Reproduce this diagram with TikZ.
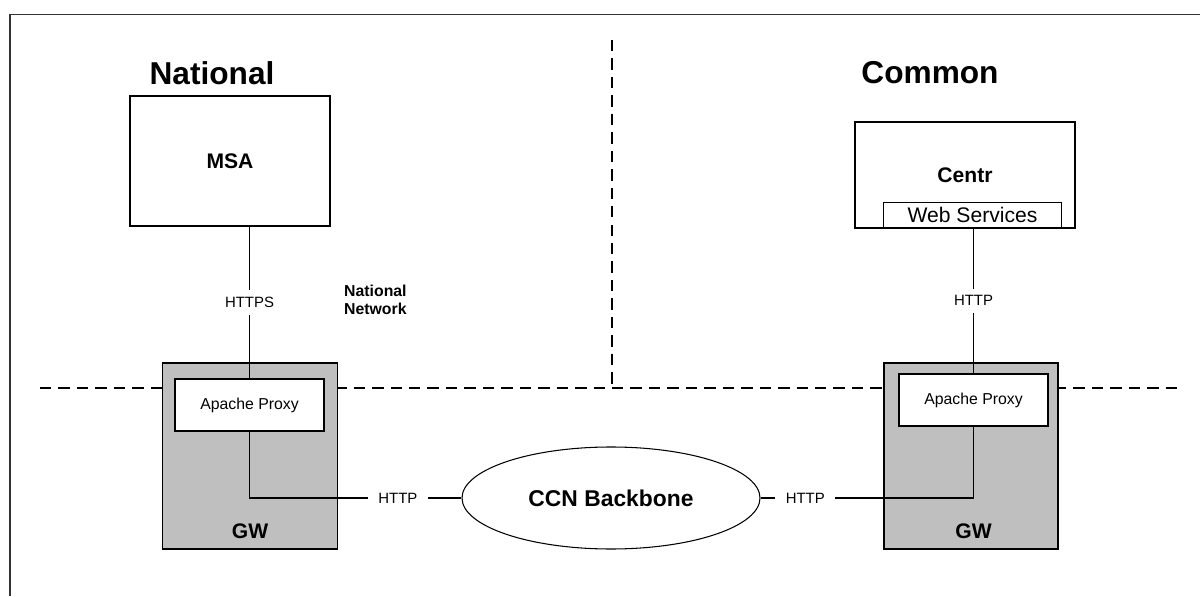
\documentclass[tikz,border=0pt]{standalone}
\usepackage{fontspec}
\setmainfont{Liberation Sans}
\usetikzlibrary{shapes.geometric}

\begin{document}
\begin{tikzpicture}[
    box/.style={draw, line width=0.6pt, inner sep=0pt},
    gwbox/.style={box, fill=gray!50, minimum width=3.5cm, minimum height=3.72cm},
    proxybox/.style={box, fill=white, minimum width=2.98cm, minimum height=1.04cm, font=\fontsize{9}{10}\selectfont},
    zone/.style={line width=1.6pt, dash pattern=on 6.5pt off 4pt},
    lbl/.style={fill=white, inner xsep=6pt, inner ysep=4pt, font=\fontsize{8.5}{10}\selectfont},
    title/.style={font=\fontsize{18}{20}\selectfont\bfseries},
    bold/.style={font=\fontsize{12}{14}\selectfont\bfseries}]
    \useasboundingbox (0,0) rectangle (24,11.92);

    \draw[line width=1.1pt, black!80] (0.2,0) -- (0.2,11.63) -- (24,11.63);

    \coordinate (dl) at (0.8,4.16);
    \coordinate (dr) at (23.6,4.16);
    \coordinate (dtop) at (12.24,11.12);
    \coordinate (dmid) at (12.24,4.16);
    \draw[zone] (dl) -- (dr);
    \draw[zone] (dtop) -- (dmid);

    \node[title] (national) at (4.24,10.46) {National};
    \node[title] (common) at (18.6,10.46) {Common};

    \node[box, bold, minimum width=4cm, minimum height=2.6cm] (msa) at (4.6,8.7) {MSA};
    \node[box, bold, minimum width=4.4cm, minimum height=2.12cm] (centr) at (19.3,8.42) {Centr};
    \node[box, fill=white, anchor=south, minimum width=3.56cm, minimum height=0.5cm,
        font=\fontsize{12}{14}\selectfont] (websvc) at (19.45,7.36) {Web Services};

    \node[gwbox] (lgw) at (5.0,2.8) {};
    \node[bold] at (5.0,1.3) {GW};
    \node[proxybox] (lproxy) at (4.99,3.82) {Apache Proxy};

    \node[gwbox, minimum width=3.48cm] (rgw) at (19.42,2.8) {};
    \node[bold] at (19.47,1.3) {GW};
    \node[proxybox] (rproxy) at (19.47,3.92) {Apache Proxy};

    \node[draw, ellipse, line width=0.6pt, minimum width=5.96cm, minimum height=2.04cm,
        font=\fontsize{13}{15}\selectfont\bfseries] (backbone) at (12.22,1.96) {CCN Backbone};

    \node[anchor=west, align=left, font=\fontsize{9}{10.5}\selectfont\bfseries] (natnet)
        at (6.76,5.92) {National\\Network};

    \draw[line width=0.6pt] (lproxy.north) -- node[lbl] {HTTPS} (lproxy.north |- msa.south);
    \draw[line width=0.6pt] (rproxy.north) -- node[lbl] {HTTP} (rproxy.north |- websvc.south);
    \draw[line width=0.6pt] (lproxy.south) |- node[lbl, pos=0.85] {HTTP} (backbone.west);
    \draw[line width=0.6pt] (backbone.east) -| node[lbl, pos=0.105] {HTTP} (rproxy.south);
\end{tikzpicture}
\end{document}
